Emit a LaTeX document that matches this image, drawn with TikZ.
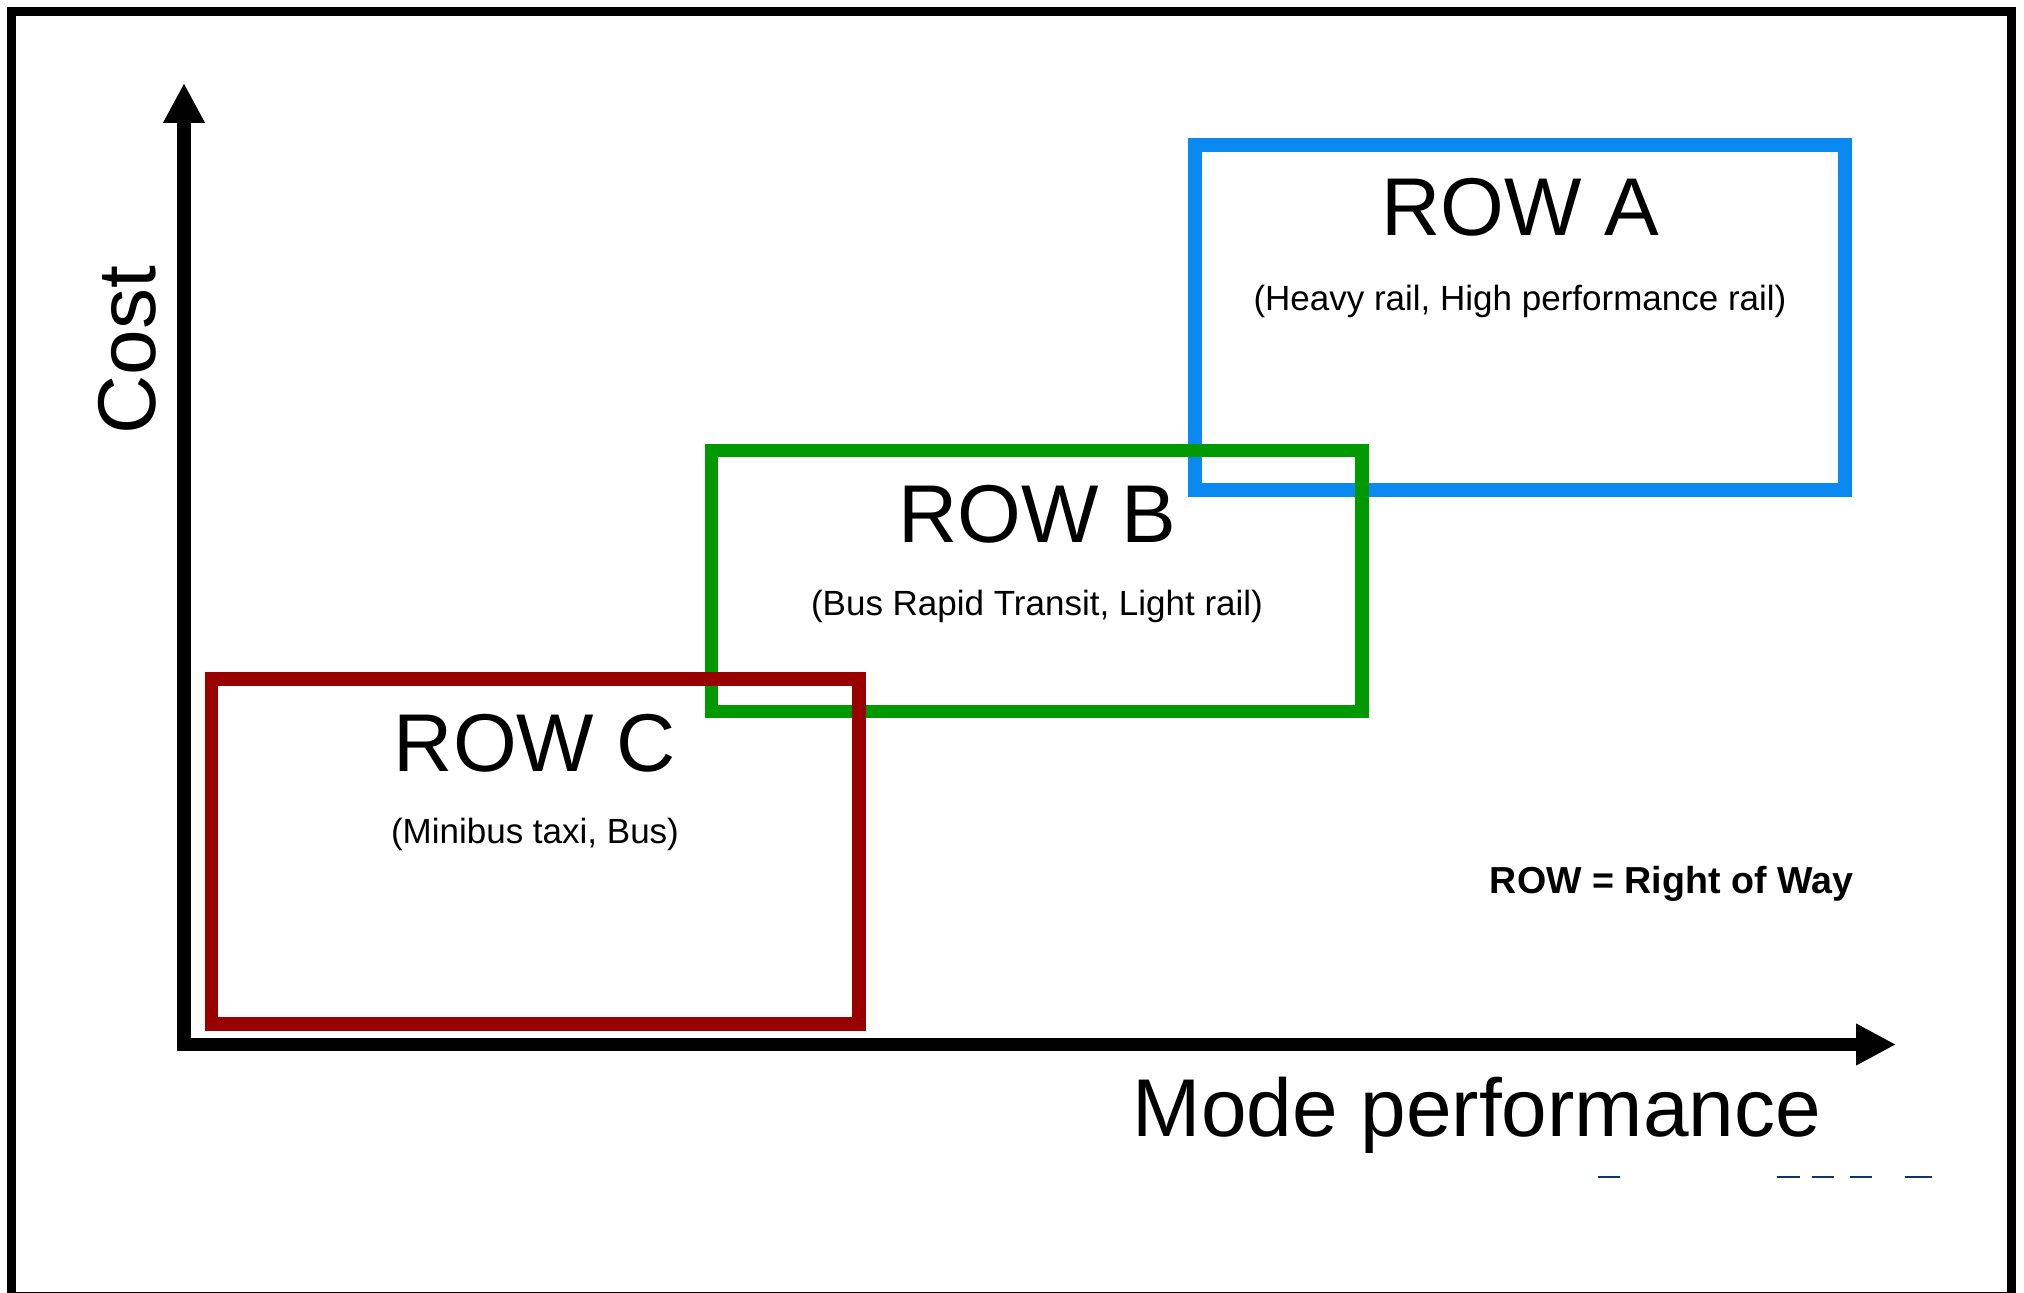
\documentclass[tikz,border=0pt]{standalone}
\usepackage{fontspec}
\setmainfont{Liberation Sans}
\usetikzlibrary{arrows.meta}
\definecolor{rowa}{RGB}{10,138,240}
\definecolor{rowb}{RGB}{0,153,0}
\definecolor{rowc}{RGB}{153,0,0}
\definecolor{linkblue}{RGB}{20,50,100}

\begin{document}
\begin{tikzpicture}[x=0.5pt,y=-0.5pt,
  rowbox/.style={line width=6.65pt},
  bigtext/.style={font=\fontsize{41}{49}\selectfont, inner sep=0pt, anchor=base},
  subtext/.style={font=\fontsize{17.5}{21}\selectfont, inner sep=0pt, anchor=base},
  notetext/.style={font=\bfseries\fontsize{18.8}{22}\selectfont, inner sep=0pt, anchor=base},
  axisline/.style={line width=6.75pt, line join=miter,
    {Triangle[length=20pt,width=19.5pt]}-{Triangle[length=20pt,width=19.5pt]}}]

\useasboundingbox (0,0) rectangle (2024,1293);

% outer frame
\draw[line width=4.5pt] (11.5,11.5) rectangle (2011.5,1296);

% axes
\coordinate (ytip) at (184,83);
\coordinate (origin) at (184,1044.5);
\coordinate (xtip) at (1896,1044.5);
\draw[axisline] (ytip) -- (origin) -- (xtip);

\node[bigtext, rotate=90] (costlabel) at (155,350) {Cost};
\node[bigtext] (perflabel) at (1477,1136) {Mode performance};

% right-of-way categories
\draw[rowbox, draw=rowa] (1195,145) rectangle (1845,490);
\draw[rowbox, draw=rowb] (711.5,450.5) rectangle (1362,711.5);
\draw[rowbox, draw=rowc] (211.5,679) rectangle (859,1024);

\node[bigtext] (rowA) at (1520,236) {ROW A};
\node[subtext] (rowAsub) at (1520,311) {(Heavy rail, High performance rail)};
\node[bigtext] (rowB) at (1037,543) {ROW B};
\node[subtext] (rowBsub) at (1037,616) {(Bus Rapid Transit, Light rail)};
\node[bigtext] (rowC) at (535,772) {ROW C};
\node[subtext] (rowCsub) at (535,843) {(Minibus taxi, Bus)};

\node[notetext] (note) at (1671.5,893) {ROW = Right of Way};

% fragments of a cut-off underline
\foreach \a/\b in {1598/1620, 1777/1800, 1812/1834, 1850/1872, 1905/1932}
  \draw[linkblue, line width=1pt] (\a,1177) -- (\b,1177);
\end{tikzpicture}
\end{document}
